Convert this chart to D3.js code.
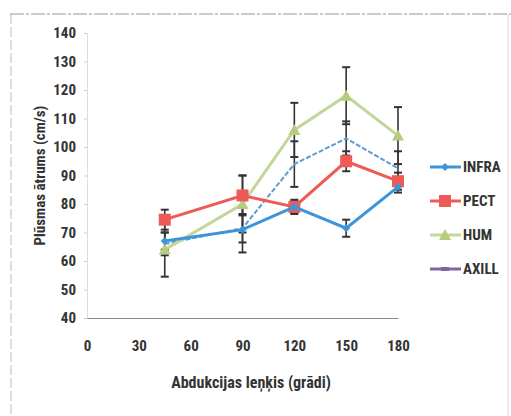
<!DOCTYPE html>
<html>
<head>
<meta charset="utf-8">
<script src="https://cdn.jsdelivr.net/npm/d3@7"></script>
<style>
  body { margin: 0; background: #fff; }
  text { font-family: "Liberation Sans Narrow", "Roboto Condensed", "Open Sans", sans-serif; font-weight: bold; fill: #333; }
</style>
</head>
<body>
<script>
const width = 511;
const height = 416;

// data
const angles = [45, 90, 120, 150, 180];
const infra = [67, 71, 79, 71.5, 86];
const infraErr = [3, 8, 2, 3, 2];
const pect = [74.5, 83, 79, 95, 88];
const pectErr = [3.5, 7, 2.5, 3.5, 3];
const hum = [64, 80, 106, 118, 104];
const humErr = [9.5, 10, 9.5, 10, 10];
const axill = [66, 71.5, 94, 103, 92.5];
const axillErr = [4, 5, 8, 6, 6];
const xTicks = [0, 30, 60, 90, 120, 150, 180];
const yTicks = [40, 50, 60, 70, 80, 90, 100, 110, 120, 130, 140];

const series = [
  { name: 'AXILL', values: axill, err: axillErr, color: '#5b9bd5', legend: '#8064a2', marker: 'none', dash: '5,2', w: 2 },
  { name: 'HUM', values: hum, err: humErr, color: '#c3d69b', legend: '#c3d69b', marker: 'triangle', dash: null, w: 3 },
  { name: 'PECT', values: pect, err: pectErr, color: '#ee5a55', legend: '#ee5a55', marker: 'square', dash: null, w: 3 },
  { name: 'INFRA', values: infra, err: infraErr, color: '#3d95d9', legend: '#3d95d9', marker: 'diamond', dash: null, w: 3 }
];

const svg = d3.select('body').append('svg')
  .attr('width', width)
  .attr('height', height);

// scanned frame
svg.append('line').attr('x1', 10).attr('x2', 511).attr('y1', 14).attr('y2', 14)
  .attr('stroke', '#999').attr('stroke-width', 1.2).attr('stroke-dasharray', '14,2,3,2');
svg.append('line').attr('x1', 11).attr('x2', 11).attr('y1', 14).attr('y2', 416)
  .attr('stroke', '#bbb').attr('stroke-width', 1).attr('stroke-dasharray', '10,3');
svg.append('line').attr('x1', 508).attr('x2', 508).attr('y1', 14).attr('y2', 416)
  .attr('stroke', '#ddd').attr('stroke-width', 1);

const x = d3.scaleLinear().domain([0, 180]).range([87, 398]);
const y = d3.scaleLinear().domain([40, 140]).range([318, 33]);

// y axis
const yAxis = svg.append('g')
  .attr('transform', `translate(${x(0)},0)`)
  .call(d3.axisLeft(y).tickValues(yTicks).tickSize(3).tickPadding(8));
yAxis.select('.domain').attr('stroke', '#ddd');
yAxis.selectAll('.tick line').attr('stroke', '#ccc');
yAxis.selectAll('text').style('font-size', '15px').attr('fill', '#333');

// x axis
const xAxis = svg.append('g')
  .attr('transform', `translate(0,${y(40)})`)
  .call(d3.axisBottom(x).tickValues(xTicks).tickSize(0).tickPadding(22));
xAxis.select('.domain').attr('stroke', '#888').attr('stroke-width', 1.2);
xAxis.selectAll('text').style('font-size', '15px').attr('fill', '#333');

// axis titles
svg.append('text')
  .attr('transform', `translate(45,${y(90)}) rotate(-90)`)
  .attr('text-anchor', 'middle')
  .style('font-size', '15px')
  .text('Plūsmas ātrums (cm/s)');
svg.append('text')
  .attr('x', 251).attr('y', 388)
  .attr('text-anchor', 'middle')
  .style('font-size', '16px')
  .text('Abdukcijas leņķis (grādi)');

const line = d3.line().x(d => x(d[0])).y(d => y(d[1]));

function drawMarker(g, type, color, cx, cy) {
  if (type === 'square') {
    g.append('rect').attr('x', cx - 6).attr('y', cy - 6).attr('width', 12).attr('height', 12).attr('fill', color);
  } else if (type === 'diamond') {
    g.append('path').attr('d', `M${cx},${cy - 4}L${cx + 4},${cy}L${cx},${cy + 4}L${cx - 4},${cy}Z`).attr('fill', color);
  } else if (type === 'triangle') {
    g.append('path').attr('d', `M${cx},${cy - 6}L${cx + 6},${cy + 5}L${cx - 6},${cy + 5}Z`).attr('fill', '#b8cc80');
  }
}

// error bars
const errG = svg.append('g');
series.forEach(s => {
  angles.forEach((a, i) => {
    const top = y(s.values[i] + s.err[i]);
    const bot = y(s.values[i] - s.err[i]);
    errG.append('line').attr('x1', x(a)).attr('x2', x(a)).attr('y1', top).attr('y2', bot)
      .attr('stroke', '#333').attr('stroke-width', 1.6);
    [top, bot].forEach(v => {
      errG.append('line').attr('x1', x(a) - 4).attr('x2', x(a) + 4).attr('y1', v).attr('y2', v)
        .attr('stroke', '#333').attr('stroke-width', 2);
    });
  });
});

// lines and markers
series.forEach(s => {
  const g = svg.append('g');
  const pts = angles.map((a, i) => [a, s.values[i]]);
  g.append('path').attr('d', line(pts)).attr('fill', 'none')
    .attr('stroke', s.color).attr('stroke-width', s.w)
    .attr('stroke-dasharray', s.dash);
  pts.forEach(p => drawMarker(g, s.marker, s.color, x(p[0]), y(p[1])));
});

// legend
const legendOrder = ['INFRA', 'PECT', 'HUM', 'AXILL'];
const legendY = d3.scalePoint().domain(legendOrder).range([167, 269]);
legendOrder.forEach(name => {
  const s = series.find(d => d.name === name);
  const ly = legendY(name);
  const g = svg.append('g');
  g.append('line').attr('x1', 430).attr('x2', 461).attr('y1', ly).attr('y2', ly)
    .attr('stroke', s.legend).attr('stroke-width', 3);
  drawMarker(g, s.marker, s.legend, 445, ly);
  if (s.marker === 'none') {
    g.append('rect').attr('x', 441).attr('y', ly - 2).attr('width', 8).attr('height', 4).attr('fill', s.legend);
  }
  g.append('text').attr('x', 463).attr('y', ly + 5)
    .style('font-size', '15px').text(name);
});
</script>
</body>
</html>
